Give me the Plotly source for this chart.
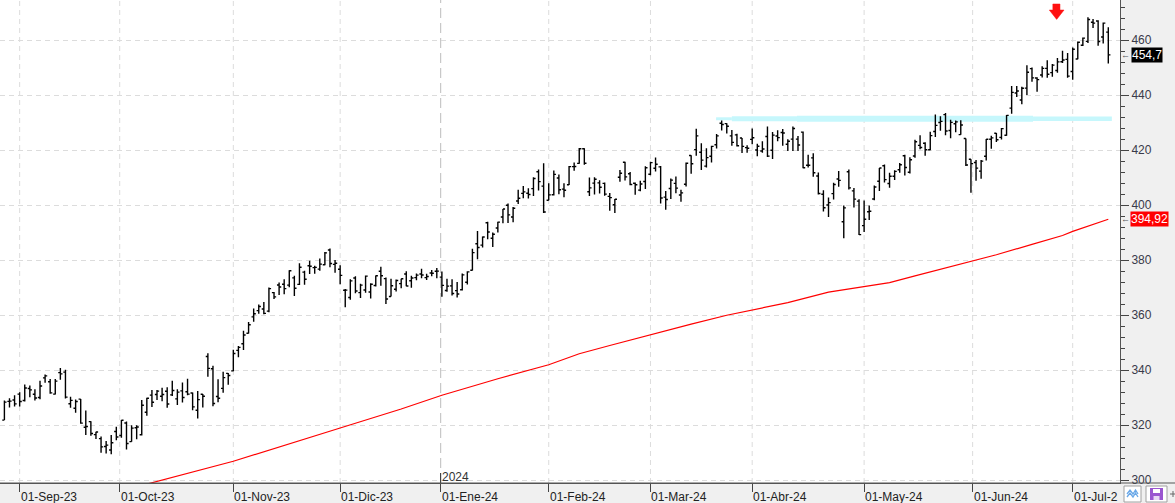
import plotly.graph_objects as go
import numpy as np
from datetime import date

# ---------------- data ----------------
trading_days = {
    "2023-08": [29, 30, 31],
    "2023-09": [1, 5, 6, 7, 8, 11, 12, 13, 14, 15, 18, 19, 20, 21, 22, 25, 26, 27, 28, 29],
    "2023-10": [2, 3, 4, 5, 6, 9, 10, 11, 12, 13, 16, 17, 18, 19, 20, 23, 24, 25, 26, 27, 30, 31],
    "2023-11": [1, 2, 3, 6, 7, 8, 9, 10, 13, 14, 15, 16, 17, 20, 21, 22, 24, 27, 28, 29, 30],
    "2023-12": [1, 4, 5, 6, 7, 8, 11, 12, 13, 14, 15, 18, 19, 20, 21, 22, 26, 27, 28, 29],
    "2024-01": [2, 3, 4, 5, 8, 9, 10, 11, 12, 16, 17, 18, 19, 22, 23, 24, 25, 26, 29, 30, 31],
    "2024-02": [1, 2, 5, 6, 7, 8, 9, 12, 13, 14, 15, 16, 20, 21, 22, 23, 26, 27, 28, 29],
    "2024-03": [1, 4, 5, 6, 7, 8, 11, 12, 13, 14, 15, 18, 19, 20, 21, 22, 25, 26, 27, 28],
    "2024-04": [1, 2, 3, 4, 5, 8, 9, 10, 11, 12, 15, 16, 17, 18, 19, 22, 23, 24, 25, 26, 29, 30],
    "2024-05": [1, 2, 3, 6, 7, 8, 9, 10, 13, 14, 15, 16, 17, 20, 21, 22, 23, 24, 28, 29, 30, 31],
    "2024-06": [3, 4, 5, 6, 7, 10, 11, 12, 13, 14, 17, 18, 20, 21, 24, 25, 26, 27, 28],
    "2024-07": [1, 2, 3, 5, 8, 9, 10, 11],
}

opens = [
    321.88, 328.67, 329.20,
    331.31, 329.00, 333.38, 331.29, 330.09, 337.24, 335.82, 331.31, 339.15, 339.32, 327.80, 326.17, 329.51, 319.26, 321.32, 316.59, 315.13, 312.30, 310.99, 317.75,
    316.28, 320.83, 314.03, 319.09, 316.55, 324.75, 330.96, 331.21, 330.57, 332.38, 331.05, 329.59, 332.49, 332.16, 331.72, 325.47, 331.30, 345.02, 340.54, 330.43, 333.41, 338.85,
    339.79, 347.24, 349.63, 353.45, 359.40, 361.68, 362.30, 361.49, 368.22, 371.01, 371.27, 370.96, 373.61, 371.22, 375.67, 378.00, 377.33, 376.78, 378.35, 383.76, 378.49,
    376.76, 369.10, 366.45, 373.54, 368.23, 369.20, 368.48, 370.85, 376.02, 373.31, 366.85, 369.45, 371.49, 375.00, 372.56, 373.68, 375.00, 373.69, 375.37, 376.00,
    373.86, 369.01, 370.67, 368.97, 369.30, 372.01, 376.37, 386.00, 385.49, 393.66, 387.98, 391.72, 395.76, 400.02, 395.75, 401.54, 404.32, 404.37, 406.06, 412.20, 406.96,
    401.83, 403.81, 409.90, 405.88, 407.44, 414.05, 415.25, 420.56, 404.94, 408.07, 408.14, 407.96, 403.24, 400.17, 410.19, 415.67, 411.46, 407.99, 405.51, 408.64,
    411.27, 413.44, 413.96, 402.97, 406.12, 407.96, 403.76, 407.62, 418.10, 420.24, 419.29, 414.25, 417.83, 422.00, 429.83, 429.70, 425.24, 425.61, 424.44, 420.96,
    423.95, 420.11, 419.73, 424.99, 420.01, 425.17, 426.44, 422.19, 424.04, 424.05, 426.60, 414.57, 417.25, 410.63, 404.03, 400.08, 404.24, 409.56, 394.03, 412.17, 405.25, 401.49,
    392.61, 397.66, 402.28, 408.76, 414.35, 407.94, 410.57, 412.94, 418.01, 412.02, 417.90, 421.80, 422.54, 420.21, 426.83, 430.09, 432.97, 427.19, 429.63, 425.69, 424.30, 416.75,
    415.53, 412.43, 417.81, 424.01, 426.20, 424.70, 425.48, 435.32, 440.85, 438.28, 442.59, 449.71, 446.30, 447.38, 449.80, 448.25, 449.00, 452.18, 453.07,
    448.66, 453.20, 458.19, 459.61, 466.55, 467.00, 461.22, 462.98,
]
highs = [
    328.98, 329.81, 330.91,
    331.99, 334.85, 334.46, 333.08, 336.16, 338.42, 336.79, 336.85, 340.86, 340.19, 330.40, 329.39, 329.59, 325.35, 321.45, 317.67, 315.88, 314.30, 316.50, 319.47,
    321.88, 321.39, 320.04, 319.98, 329.19, 330.01, 332.82, 332.82, 333.63, 333.83, 336.14, 333.10, 335.59, 336.88, 331.92, 332.45, 331.35, 346.20, 341.63, 336.72, 339.45, 339.00,
    347.42, 348.83, 354.39, 357.54, 362.46, 363.87, 364.79, 370.10, 368.47, 371.95, 373.13, 376.35, 374.37, 378.87, 376.22, 379.79, 377.97, 380.64, 383.00, 384.30, 380.09,
    378.16, 369.52, 373.08, 374.18, 371.45, 374.46, 371.60, 374.42, 377.64, 373.76, 373.26, 373.00, 373.26, 376.03, 374.41, 375.18, 376.94, 375.06, 376.46, 377.16,
    375.90, 373.26, 373.10, 372.06, 375.20, 375.99, 384.17, 390.68, 388.68, 394.03, 390.11, 393.99, 398.67, 400.62, 399.38, 405.63, 407.01, 406.17, 410.20, 413.05, 415.32,
    408.00, 412.65, 411.16, 407.97, 414.30, 415.56, 420.82, 420.74, 410.08, 410.15, 409.13, 408.29, 404.49, 402.29, 412.83, 415.86, 412.09, 408.30, 408.90, 414.20,
    415.87, 417.35, 414.25, 405.16, 409.78, 410.42, 405.68, 415.57, 418.18, 427.82, 422.60, 420.73, 421.67, 425.96, 430.82, 429.86, 427.41, 425.99, 424.45, 421.87,
    427.89, 422.38, 423.26, 428.67, 426.61, 427.28, 427.74, 424.04, 428.67, 425.18, 426.82, 418.40, 418.88, 411.89, 405.48, 402.85, 408.20, 412.47, 399.89, 413.00, 406.32, 402.16,
    401.72, 399.93, 407.15, 413.59, 414.80, 411.84, 412.72, 415.38, 418.35, 417.49, 423.81, 425.42, 422.92, 426.77, 432.97, 432.41, 433.60, 431.06, 430.82, 430.94, 424.30, 416.75,
    416.43, 416.44, 424.08, 425.31, 426.28, 428.08, 432.82, 443.40, 443.39, 443.14, 450.94, 450.14, 446.53, 450.58, 452.75, 451.42, 453.60, 456.17, 455.38,
    457.37, 459.59, 461.02, 468.35, 467.70, 467.33, 466.46, 464.78,
]
lows = [
    321.88, 326.45, 326.78,
    326.78, 328.66, 330.18, 329.03, 329.46, 335.43, 331.48, 331.17, 336.57, 329.69, 326.36, 324.51, 320.51, 316.50, 316.15, 315.00, 310.02, 309.69, 309.45, 314.57,
    315.42, 311.21, 314.00, 314.90, 316.30, 323.48, 326.61, 329.14, 328.72, 326.36, 330.60, 327.33, 328.30, 330.91, 325.45, 322.50, 326.42, 337.62, 326.94, 328.40, 331.83, 334.69,
    339.65, 344.77, 347.33, 353.35, 357.63, 360.55, 360.36, 361.07, 365.90, 367.35, 367.66, 370.18, 367.00, 371.00, 371.12, 374.97, 375.14, 376.20, 378.16, 377.44, 375.47,
    371.31, 362.90, 365.62, 368.03, 366.32, 368.23, 366.10, 370.46, 370.77, 364.13, 366.78, 368.68, 369.84, 370.53, 370.04, 372.71, 373.50, 372.81, 374.16, 373.48,
    366.77, 368.51, 367.17, 366.50, 369.01, 371.19, 376.32, 380.38, 384.65, 387.62, 384.81, 390.12, 393.50, 393.59, 393.80, 400.45, 402.53, 402.43, 403.39, 405.33, 397.21,
    401.80, 403.56, 403.99, 402.91, 407.40, 412.53, 415.09, 414.75, 403.39, 403.91, 404.29, 403.44, 398.01, 397.22, 408.57, 408.97, 407.31, 403.85, 405.08, 405.92,
    410.88, 412.32, 400.64, 398.39, 402.24, 404.33, 401.26, 406.79, 411.45, 417.99, 412.79, 413.78, 415.55, 420.66, 427.16, 426.07, 421.61, 421.35, 419.01, 419.12,
    422.22, 417.84, 419.09, 417.57, 416.87, 423.30, 421.62, 419.70, 419.70, 419.77, 413.43, 413.73, 410.33, 403.95, 397.77, 395.75, 402.06, 406.78, 388.03, 405.76, 399.19, 389.17,
    390.31, 394.65, 401.86, 405.21, 408.32, 406.36, 409.18, 411.79, 410.82, 411.55, 417.27, 420.35, 418.03, 419.99, 424.85, 427.13, 425.42, 424.41, 426.60, 425.69, 414.24, 404.51,
    408.92, 409.68, 416.30, 420.58, 423.00, 423.89, 425.25, 433.25, 439.37, 436.72, 440.07, 444.90, 441.27, 446.51, 446.41, 446.75, 448.19, 451.77, 446.41,
    445.66, 453.11, 457.88, 458.97, 464.46, 458.00, 458.86, 451.55,
]
closes = [
    328.41, 328.79, 327.76,
    328.66, 333.55, 332.88, 329.91, 334.27, 337.94, 331.77, 336.06, 338.70, 330.22, 329.06, 328.65, 320.77, 319.53, 317.01, 317.54, 312.14, 312.79, 313.64, 315.75,
    321.80, 313.39, 318.96, 319.36, 327.26, 329.82, 328.39, 332.42, 331.16, 327.73, 332.64, 332.06, 330.11, 331.32, 326.67, 329.32, 330.53, 340.67, 327.89, 329.81, 337.31, 338.11,
    346.07, 348.32, 352.80, 356.53, 360.53, 363.20, 360.69, 369.67, 366.68, 370.27, 369.67, 376.17, 369.85, 377.44, 373.07, 377.85, 377.43, 378.61, 382.70, 378.85, 378.91,
    374.51, 369.14, 372.52, 368.80, 370.95, 374.23, 371.30, 374.38, 374.37, 365.93, 370.73, 372.65, 373.26, 370.62, 373.54, 374.58, 374.66, 374.07, 375.28, 376.04,
    370.87, 370.60, 367.94, 367.75, 374.69, 375.79, 382.77, 384.63, 388.47, 390.27, 389.47, 393.87, 398.67, 396.51, 398.90, 402.56, 404.87, 403.93, 409.72, 408.59, 397.58,
    403.78, 411.22, 405.65, 405.49, 414.05, 414.11, 420.55, 415.26, 406.32, 409.49, 406.56, 404.06, 402.79, 402.18, 411.65, 410.34, 407.54, 407.48, 407.72, 413.64,
    415.50, 414.92, 402.65, 402.09, 409.14, 406.22, 404.52, 415.28, 415.10, 425.22, 416.42, 417.32, 421.41, 425.23, 429.37, 428.74, 422.86, 421.65, 421.43, 420.72,
    424.57, 421.44, 420.45, 417.88, 425.52, 424.59, 426.28, 423.26, 427.93, 421.90, 413.64, 414.58, 411.84, 404.27, 399.12, 400.96, 407.57, 409.06, 399.04, 406.32, 402.25, 389.33,
    394.94, 397.84, 406.66, 413.54, 409.34, 410.54, 412.32, 414.74, 413.72, 416.56, 423.08, 420.99, 420.21, 425.34, 429.04, 430.52, 427.00, 430.16, 430.32, 429.17, 414.67, 415.13,
    413.52, 416.07, 424.01, 424.52, 423.85, 427.87, 432.68, 441.06, 441.58, 442.57, 448.37, 446.34, 445.70, 449.78, 447.67, 450.95, 452.16, 452.85, 446.95,
    456.73, 459.28, 460.77, 467.56, 466.24, 459.54, 466.25, 454.70,
]

# moving average (red line), sampled from the chart
ma_dates = ["2023-10-09", "2023-11-01", "2023-12-01", "2023-12-19", "2024-01-02", "2024-01-18",
            "2024-02-01", "2024-02-09", "2024-02-20", "2024-03-01", "2024-03-13", "2024-03-22",
            "2024-04-01", "2024-04-10", "2024-04-22", "2024-05-01", "2024-05-08", "2024-05-15",
            "2024-05-23", "2024-05-31", "2024-06-07", "2024-06-18", "2024-06-27", "2024-07-01",
            "2024-07-11"]
ma_values = [298.6, 306.9, 319.0, 325.9, 330.9, 336.9,
             342.0, 346.0, 349.0, 353.0, 356.8, 360.0,
             361.9, 364.6, 368.4, 370.6, 371.9, 374.3,
             377.1, 379.4, 382.0, 385.8, 389.0, 390.5,
             394.92]

month_starts = ["2023-09-01", "2023-10-01", "2023-11-01", "2023-12-01", "2024-01-01", "2024-02-01",
                "2024-03-01", "2024-04-01", "2024-05-01", "2024-06-01", "2024-07-01"]
month_labels = ["01-Sep-23", "01-Oct-23", "01-Nov-23", "01-Dic-23", "01-Ene-24", "01-Feb-24",
                "01-Mar-24", "01-Abr-24", "01-May-24", "01-Jun-24", "01-Jul-2"]
y_ticks = [300, 320, 340, 360, 380, 400, 420, 440, 460]

last_close_text = "454,7"
last_ma_text = "394,92"
resistance_level = 431.45
year_label = "2024"

# ---------------- build ----------------
dates = [f"{m}-{d:02d}" for m, ds in trading_days.items() for d in ds]
n = len(dates)
assert n == len(opens) == len(highs) == len(lows) == len(closes) == 218
idx = np.arange(n)
ords = np.array([date.fromisoformat(d).toordinal() for d in dates])
tick_pos = [float(np.interp(date.fromisoformat(m).toordinal(), ords, idx)) for m in month_starts]
ma_x = [dates.index(d) for d in ma_dates]

FONT = "Liberation Sans, Arial, sans-serif"
PW, PH = 1120.0, 483.0  # plot area in px
X0, X1 = -0.865, 219.3
Y0, Y1 = 299.0, 474.65


def px_x(p):  # pixel -> paper x
    return p / PW


def px_y(p):  # pixel (from top) -> paper y
    return (PH - p) / PH


fig = go.Figure()

fig.add_trace(go.Ohlc(
    x=idx, open=opens, high=highs, low=lows, close=closes,
    increasing=dict(line=dict(color="black", width=1.4)),
    decreasing=dict(line=dict(color="black", width=1.4)),
    tickwidth=0.42, text=dates, hoverinfo="text+y", name="MSFT",
))
fig.add_trace(go.Scatter(
    x=ma_x, y=ma_values, mode="lines",
    line=dict(color="#ff0000", width=1.2), hoverinfo="skip", name="MA",
))

shapes = []
# vertical dashed grid lines
for k, tp in enumerate(tick_pos):
    if month_labels[k].startswith("01-Ene"):
        shapes.append(dict(type="line", xref="x", yref="paper", x0=tp, x1=tp, y0=0, y1=1,
                           line=dict(color="#c8c8c8", width=1.2, dash="10px,5px"), layer="below"))
    else:
        shapes.append(dict(type="line", xref="x", yref="paper", x0=tp, x1=tp, y0=0, y1=1,
                           line=dict(color="#dcdcdc", width=1, dash="5px,4px"), layer="below"))
# year separator tick
jan = tick_pos[month_labels.index("01-Ene-24")]
shapes.append(dict(type="line", xref="x", yref="paper", x0=jan, x1=jan, y0=0, y1=px_y(473),
                   line=dict(color="#333", width=1)))

# cyan resistance band (segments of different thickness)
for xa, xb, w in [(139.9, 143.0, 3), (143.0, 155.8, 5), (155.8, 202.2, 6), (202.2, 217.7, 4.5)]:
    shapes.append(dict(type="line", xref="x", yref="y", x0=xa, x1=xb,
                       y0=resistance_level, y1=resistance_level,
                       line=dict(color="#c6f7fc", width=w), layer="below"))

# red down arrow marker
shapes.append(dict(type="path", xref="x", yref="y",
                   path="M 206.1,473.2 L 207.5,473.2 L 207.5,471.0 L 208.3,471.0 L 206.85,467.6 "
                        "L 205.4,471.0 L 206.1,471.0 Z",
                   fillcolor="#ff1010", line=dict(color="#ff1010", width=0.5)))

# bottom band line across full width
shapes.append(dict(type="line", xref="paper", yref="paper", x0=0, x1=1175 / PW, y0=0, y1=0,
                   line=dict(color="#555", width=1)))

# bottom-right toolbar icons
shapes.append(dict(type="rect", xref="paper", yref="paper",
                   x0=px_x(1124), x1=px_x(1141), y0=px_y(502), y1=px_y(486),
                   fillcolor="white", line=dict(color="#a0a0a0", width=1)))
shapes.append(dict(type="path", xref="paper", yref="paper",
                   path=f"M {px_x(1127)},{px_y(494)} L {px_x(1130)},{px_y(490)} L {px_x(1133)},{px_y(494)} "
                        f"L {px_x(1135.5)},{px_y(490)} L {px_x(1138)},{px_y(494)}",
                   line=dict(color="#6aa8e8", width=1.3)))
shapes.append(dict(type="path", xref="paper", yref="paper",
                   path=f"M {px_x(1127)},{px_y(497)} L {px_x(1130)},{px_y(493)} L {px_x(1133)},{px_y(497)} "
                        f"L {px_x(1135.5)},{px_y(493)} L {px_x(1138)},{px_y(497)}",
                   line=dict(color="#6aa8e8", width=1.3)))
shapes.append(dict(type="rect", xref="paper", yref="paper",
                   x0=px_x(1146), x1=px_x(1167), y0=px_y(502), y1=px_y(486),
                   fillcolor="white", line=dict(color="#a0a0a0", width=1)))
shapes.append(dict(type="rect", xref="paper", yref="paper",
                   x0=px_x(1150), x1=px_x(1163), y0=px_y(500), y1=px_y(488),
                   fillcolor="#9a55d0", line=dict(width=0)))
shapes.append(dict(type="rect", xref="paper", yref="paper",
                   x0=px_x(1153), x1=px_x(1160), y0=px_y(493), y1=px_y(489),
                   fillcolor="white", line=dict(width=0)))
shapes.append(dict(type="rect", xref="paper", yref="paper",
                   x0=px_x(1153.5), x1=px_x(1159.5), y0=px_y(500), y1=px_y(496),
                   fillcolor="#e8d8f4", line=dict(width=0)))
# partially visible "+" button (drawn as strokes)
shapes.append(dict(type="line", xref="paper", yref="paper",
                   x0=px_x(1170), x1=px_x(1175), y0=px_y(494), y1=px_y(494),
                   line=dict(color="#666", width=1)))
shapes.append(dict(type="line", xref="paper", yref="paper",
                   x0=px_x(1173), x1=px_x(1173), y0=px_y(491), y1=px_y(497),
                   line=dict(color="#666", width=1)))

annotations = []
for tp, lab in zip(tick_pos, month_labels):
    annotations.append(dict(x=tp, xref="x", y=px_y(497), yref="paper", text=lab,
                            showarrow=False, xanchor="left", yanchor="middle", xshift=-1,
                            font=dict(family=FONT, size=12, color="#222")))
annotations.append(dict(x=jan, xref="x", y=px_y(476.5), yref="paper", text=year_label,
                        showarrow=False, xanchor="left", yanchor="middle", xshift=-1,
                        font=dict(family=FONT, size=12, color="#333")))
# price tags
annotations.append(dict(x=px_x(1130.5), xref="paper", y=closes[-1], yref="y", text=last_close_text,
                        showarrow=False, xanchor="left", yanchor="middle",
                        bgcolor="black", borderpad=0,
                        font=dict(family=FONT, size=12, color="white")))
annotations.append(dict(x=px_x(1130), xref="paper", y=ma_values[-1], yref="y", text=last_ma_text,
                        showarrow=False, xanchor="left", yanchor="middle",
                        bgcolor="#ff0000", borderpad=0,
                        font=dict(family=FONT, size=12, color="white")))
for yv in (closes[-1], ma_values[-1]):
    annotations.append(dict(x=px_x(1120), xref="paper", y=yv, yref="y", text="←",
                            showarrow=False, xanchor="left", yanchor="middle", xshift=-1,
                            font=dict(family=FONT, size=9, color="#555")))

fig.update_layout(
    width=1175, height=503,
    margin=dict(l=0, r=55, t=0, b=20, pad=0),
    paper_bgcolor="#f0f0f0", plot_bgcolor="white",
    showlegend=False, hovermode="closest",
    shapes=shapes, annotations=annotations,
    xaxis=dict(range=[X0, X1], tickvals=tick_pos, showticklabels=False,
               ticks="outside", ticklen=8, tickcolor="#444", tickwidth=1,
               showgrid=False, zeroline=False, showline=True, linecolor="#555", linewidth=1,
               rangeslider=dict(visible=False), fixedrange=True),
    yaxis=dict(range=[Y0, Y1], side="right", tickvals=y_ticks,
               ticks="outside", ticklen=8, tickcolor="#444", tickwidth=1,
               minor=dict(dtick=4, tick0=300, ticks="outside", ticklen=4, tickcolor="#444", showgrid=False),
               showgrid=True, gridcolor="#dcdcdc", griddash="5px,4px", gridwidth=1,
               zeroline=False, showline=True, linecolor="#555", linewidth=1,
               tickfont=dict(family=FONT, size=12, color="#3a3a4a"), fixedrange=True),
    font=dict(family=FONT),
)

fig.write_html("out.html")
